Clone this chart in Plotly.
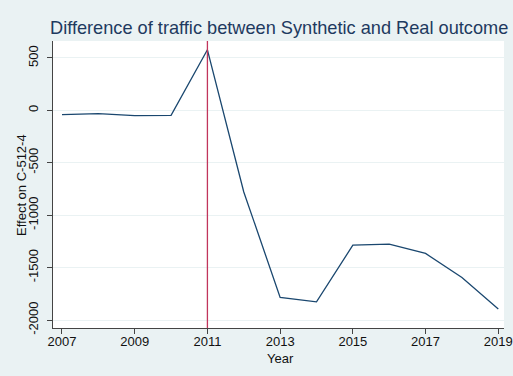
import plotly.graph_objects as go

# Yearly gap between the real and synthetic traffic series
years = [2007, 2008, 2009, 2010, 2011, 2012, 2013, 2014, 2015, 2016, 2017, 2018, 2019]
effect = [-41, -31, -50, -48, 578, -778, -1784, -1826, -1286, -1276, -1365, -1594, -1895]

treatment_year = 2011
x_ticks = [2007, 2009, 2011, 2013, 2015, 2017, 2019]
y_ticks = [-2000, -1500, -1000, -500, 0, 500]

FONT = "Liberation Sans, Arial, Helvetica, sans-serif"
NAVY = "#1A476F"
CRANBERRY = "#C1355C"
BG = "#EAF2F3"

ML, MR, MT, MB = 53, 9, 41, 48
W, H = 513, 376
PW, PH = W - ML - MR, H - MT - MB

fig = go.Figure()

fig.add_trace(go.Scatter(
    x=years, y=effect, mode="lines",
    line=dict(color=NAVY, width=1.3),
    showlegend=False, hoverinfo="x+y",
))

# Vertical marker at the treatment year
fig.add_shape(
    type="line", xref="x", yref="paper",
    x0=treatment_year, x1=treatment_year, y0=0, y1=1,
    line=dict(color=CRANBERRY, width=1.3),
)

# Axis titles placed as annotations for exact positioning
fig.add_annotation(
    text="Effect on C-512-4", xref="paper", yref="paper",
    x=(21 - ML) / PW, y=(H - MB - 185) / PH,
    xanchor="center", yanchor="middle", textangle=-90,
    showarrow=False, font=dict(family=FONT, size=13, color="#111111"),
)
fig.add_annotation(
    text="Year", xref="paper", yref="paper",
    x=(280 - ML) / PW, y=(H - MB - 358) / PH,
    xanchor="center", yanchor="middle",
    showarrow=False, font=dict(family=FONT, size=13, color="#111111"),
)

fig.update_layout(
    width=W, height=H,
    margin=dict(l=ML, r=MR, t=MT, b=MB, autoexpand=False),
    paper_bgcolor=BG,
    plot_bgcolor="white",
    font=dict(family=FONT, color="#111111", size=13),
    title=dict(
        text="Difference of traffic between Synthetic and Real outcome",
        xref="container", yref="container",
        x=50 / W, xanchor="left",
        y=1 - 28 / H, yanchor="middle",
        font=dict(family=FONT, size=18.2, color="#1E3A5F"),
    ),
    xaxis=dict(
        range=[2006.753, 2019.157],
        tickvals=x_ticks,
        ticktext=[str(v) for v in x_ticks],
        showgrid=False, zeroline=False,
        showline=True, linecolor="#444444", linewidth=1,
        ticks="outside", ticklen=5, tickcolor="#444444",
        ticklabelstandoff=-4,
        tickfont=dict(size=13),
        automargin=False,
    ),
    yaxis=dict(
        range=[-2076, 662],
        tickvals=y_ticks,
        ticktext=[str(v) for v in y_ticks],
        tickangle=-90,
        showgrid=True, gridcolor=BG, gridwidth=1,
        zeroline=False,
        showline=True, linecolor="#444444", linewidth=1,
        ticks="outside", ticklen=5, tickcolor="#444444",
        ticklabelstandoff=4,
        tickfont=dict(size=13),
        automargin=False,
    ),
)

fig.write_html("out.html")
